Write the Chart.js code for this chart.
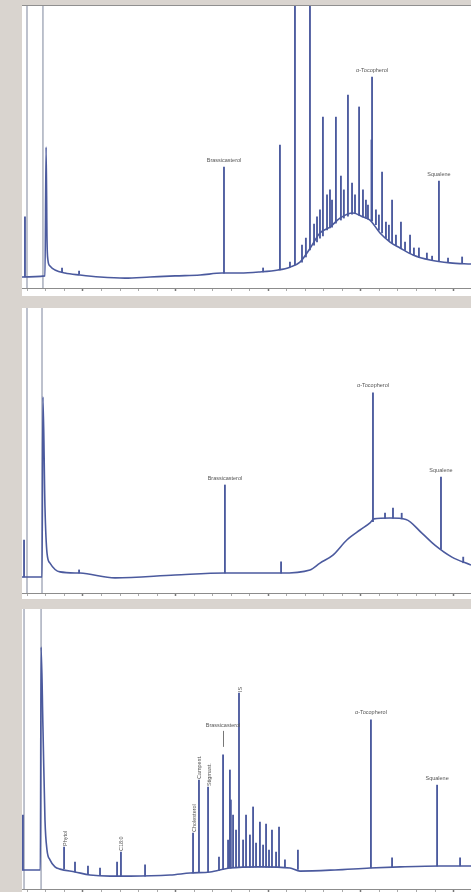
<!DOCTYPE html>
<html>
<head>
<meta charset="utf-8">
<script src="https://cdn.jsdelivr.net/npm/chart.js@4.4.1/dist/chart.umd.min.js"></script>
<style>
  body { margin: 0; width: 471px; height: 892px; background: #d9d4cf; position: relative; overflow: hidden; }
  .panel { position: absolute; left: 22px; width: 449px; background: #fff; }
</style>
</head>
<body>
<div class="panel" style="top:5px;height:290px;border-top:1px solid #8f8f8f"><canvas id="c1"></canvas></div>
<div class="panel" style="top:308px;height:291px"><canvas id="c2"></canvas></div>
<div class="panel" style="top:609px;height:283px"><canvas id="c3"></canvas></div>
<script>
// retention time axis (min)
const minTicks = [2, 3, 4, 5, 6, 7, 8, 9, 10, 11, 12, 13, 14, 15, 16, 17, 18, 19, 20, 21, 22, 23, 24, 25];
const majorTicks = [5, 10, 15, 20, 25];

// ---- sample 1 ----
const p1BaseMin = [1.71, 2.95, 3.01, 3.06, 3.11, 3.22, 3.49, 4.03, 4.84, 5.92, 7.27, 8.62, 9.97, 11.32, 12.50, 13.48, 14.55, 15.53, 16.17, 16.71, 17.25, 17.79, 18.33, 18.87, 19.57, 20.12, 20.49, 21.03, 21.57, 22.11, 22.81, 23.73, 24.81, 25.94];
const p1BaseLevel = [3.9, 4.3, 50.0, 17.0, 9.9, 7.8, 6.4, 5.3, 4.6, 3.9, 3.5, 3.9, 4.3, 4.6, 5.3, 5.3, 5.7, 6.4, 7.4, 9.2, 14.0, 19.5, 21.6, 24.8, 26.6, 25.2, 24.1, 19.5, 16.3, 14.2, 11.7, 9.9, 8.9, 8.5];
const p1PeakMin = [1.87, 3.87, 4.79, 12.61, 14.72, 15.63, 16.17, 16.44, 16.82, 17.03, 17.25, 17.47, 17.63, 17.79, 17.95, 18.17, 18.33, 18.44, 18.65, 18.92, 19.08, 19.30, 19.52, 19.68, 19.90, 20.11, 20.27, 20.38, 20.57, 20.60, 20.81, 20.97, 21.14, 21.35, 21.51, 21.68, 21.89, 22.16, 22.38, 22.65, 22.86, 23.13, 23.56, 23.84, 24.21, 24.70, 25.46];
const p1PeakTop = [25.2, 7.1, 6.0, 42.9, 7.1, 50.7, 9.2, 130, 15.2, 17.7, 130, 22.7, 25.2, 27.7, 60.6, 33.0, 34.8, 31.2, 60.6, 39.7, 34.8, 68.4, 37.2, 33.0, 64.2, 34.8, 31.2, 29.4, 52.5, 74.8, 27.7, 25.9, 41.1, 23.4, 22.3, 31.2, 18.8, 23.4, 16.3, 18.8, 14.2, 14.2, 12.4, 11.3, 37.9, 10.6, 11.0];
const p1PeakFoot = [3.9, 5.7, 5.0, 5.3, 5.7, 6.4, 7.4, 8.2, 9.2, 11.0, 13.5, 15.2, 16.3, 17.7, 18.5, 20.6, 21.3, 21.6, 23.0, 24.1, 24.8, 25.5, 26.2, 26.4, 25.8, 25.2, 24.8, 24.4, 23.8, 23.8, 22.5, 20.5, 19.5, 17.8, 16.8, 16.0, 15.2, 14.0, 13.3, 12.3, 11.6, 10.8, 10.2, 9.8, 9.4, 9.0, 8.7];
const p1Solvent = [1.98, 2.84];
const p1Names = [[12.61, 'Brassicasterol'], [20.60, 'α-Tocopherol'], [24.21, 'Squalene']];

// ---- sample 2 ----
const p2BaseMin = [1.71, 2.79, 2.84, 2.95, 3.06, 3.22, 3.76, 4.84, 6.73, 9.97, 12.66, 15.63, 17.25, 17.79, 18.49, 19.24, 19.95, 20.49, 20.70, 21.57, 22.43, 23.29, 23.99, 24.91, 25.94];
const p2BaseLevel = [5.6, 5.6, 68.8, 30.0, 14.0, 10.5, 7.4, 7.0, 5.3, 6.3, 7.0, 7.0, 8.1, 10.5, 13.3, 18.6, 22.1, 24.6, 26.0, 26.3, 25.8, 21.0, 16.8, 12.6, 9.8];
const p2PeakMin = [1.82, 4.79, 12.66, 15.69, 20.65, 21.30, 21.73, 22.20, 24.32, 25.52];
const p2PeakTop = [18.6, 8.1, 37.9, 10.9, 70.2, 28.0, 29.8, 28.0, 40.7, 12.6];
const p2PeakFoot = [5.6, 7.0, 7.0, 7.0, 25.0, 26.2, 26.3, 26.0, 15.4, 10.6];
const p2Solvent = [1.98, 2.79];
const p2Names = [[12.66, 'Brassicasterol'], [20.65, 'α-Tocopherol'], [24.32, 'Squalene']];

// ---- sample 3 ----
const p3BaseMin = [1.71, 2.70, 2.74, 2.84, 2.95, 3.06, 3.22, 3.49, 3.76, 4.57, 5.38, 6.46, 7.54, 9.70, 10.78, 11.86, 12.93, 14.55, 16.17, 16.71, 18.60, 20.49, 22.11, 24.27, 25.94];
const p3BaseLevel = [6.8, 6.8, 86.4, 57.9, 24.6, 13.9, 10.4, 7.9, 7.1, 6.1, 5.0, 4.6, 4.6, 5.0, 5.7, 6.1, 7.5, 7.9, 7.5, 6.4, 6.8, 7.5, 7.9, 8.2, 8.2];
const p3PeakMin = [1.76, 3.98, 4.57, 5.27, 5.92, 6.84, 7.05, 8.35, 10.94, 11.26, 11.75, 12.34, 12.56, 12.83, 12.93, 12.98, 13.10, 13.26, 13.42, 13.64, 13.80, 14.01, 14.18, 14.34, 14.55, 14.72, 14.88, 15.04, 15.20, 15.42, 15.58, 15.90, 16.60, 20.54, 21.68, 24.11, 25.35];
const p3PeakTop = [26.4, 15.0, 9.6, 8.2, 7.5, 9.6, 13.2, 8.6, 20.0, 38.9, 36.4, 11.4, 47.9, 17.5, 42.5, 31.8, 26.4, 21.0, 70.0, 17.5, 26.4, 19.3, 29.3, 16.4, 23.9, 15.7, 23.2, 13.9, 21.0, 13.2, 22.1, 10.4, 13.9, 60.4, 11.1, 37.1, 11.1];
const p3PeakFoot = [6.8, 7.3, 6.1, 5.2, 4.8, 4.6, 4.6, 4.6, 5.7, 5.9, 6.1, 6.6, 6.9, 7.4, 7.5, 7.5, 7.6, 7.7, 7.7, 7.8, 7.8, 7.8, 7.8, 7.9, 7.9, 7.9, 7.8, 7.8, 7.8, 7.7, 7.7, 7.6, 7.0, 7.5, 7.7, 8.2, 8.2];
const p3Solvent = [1.82, 2.74];
const p3Names = [[12.56, 'Brassicasterol', 22], [20.54, 'α-Tocopherol'], [24.11, 'Squalene']];
const p3Upright = [[3.98, 'Phytol'], [7.05, 'C18:0'], [10.94, 'Cholesterol'], [11.26, 'Campest.'], [11.75, 'Stigmast.'], [13.42, 'IS']];

const TRACE = '#4b5a9e';

function labelPlugin(peakMin, peakTop, names, upright) {
    return {
        id: 'peakLabels',
        afterDatasetsDraw(chart) {
            const { ctx, scales: { x, y } } = chart;
            const topOf = m => y.getPixelForValue(peakTop[peakMin.indexOf(m)]);
            ctx.save();
            ctx.fillStyle = '#555';
            ctx.strokeStyle = '#777';
            ctx.lineWidth = 1;
            ctx.font = '5.5px "Liberation Sans", Arial, sans-serif';
            ctx.textAlign = 'center';
            ctx.textBaseline = 'middle';
            names.forEach(([m, text, lift]) => {
                const px = x.getPixelForValue(m);
                const py = topOf(m);
                const up = lift || 0;
                ctx.fillText(text, px, py - 7 - up);
                if (up) {
                    ctx.beginPath();
                    ctx.moveTo(Math.round(px) + 0.5, py - up - 2);
                    ctx.lineTo(Math.round(px) + 0.5, py - 8);
                    ctx.stroke();
                }
            });
            ctx.textAlign = 'left';
            upright.forEach(([m, text]) => {
                const px = x.getPixelForValue(m);
                const py = topOf(m);
                ctx.save();
                ctx.translate(px + 1, py - 1);
                ctx.rotate(-Math.PI / 2);
                ctx.fillText(text, 0, 0);
                ctx.restore();
            });
            ctx.restore();
        }
    };
}

function drawPanel(id, baseMin, baseLevel, peakMin, peakTop, peakFoot, solvent, names, upright, padBottom) {
    const ctx = document.getElementById(id).getContext('2d');
    return new Chart(ctx, {
        type: 'line',
        data: {
            datasets: [
                {
                    type: 'bar',
                    data: solvent.map(m => ({ x: m, y: [0, 130] })),
                    backgroundColor: 'rgba(150,156,175,0.75)',
                    barThickness: 1,
                    grouped: false,
                    order: 3
                },
                {
                    type: 'line',
                    data: baseMin.map((m, i) => ({ x: m, y: baseLevel[i] })),
                    borderColor: TRACE,
                    borderWidth: 1.6,
                    pointRadius: 0,
                    cubicInterpolationMode: 'monotone',
                    order: 2
                },
                {
                    type: 'bar',
                    data: peakMin.map((m, i) => ({ x: m, y: [peakFoot[i], peakTop[i]] })),
                    backgroundColor: TRACE,
                    barThickness: 1.2,
                    grouped: false,
                    order: 1
                }
            ]
        },
        options: {
            responsive: true,
            maintainAspectRatio: false,
            animation: false,
            events: [],
            layout: { padding: { left: 0, right: 0, top: 0, bottom: padBottom } },
            scales: {
                x: {
                    type: 'linear',
                    min: 1.71,
                    max: 25.94,
                    offset: false,
                    afterBuildTicks: axis => { axis.ticks = minTicks.map(v => ({ value: v })); },
                    ticks: { display: false },
                    grid: {
                        offset: false,
                        drawOnChartArea: false,
                        drawTicks: true,
                        tickLength: 3,
                        tickColor: c => majorTicks.includes(c.tick.value) ? '#777' : '#aaa',
                        tickWidth: c => majorTicks.includes(c.tick.value) ? 1.5 : 1
                    },
                    border: { display: true, color: '#8c8c8c', width: 1 }
                },
                y: {
                    display: false,
                    min: 0,
                    max: 100
                }
            },
            plugins: {
                legend: { display: false },
                tooltip: { enabled: false }
            }
        },
        plugins: [labelPlugin(peakMin, peakTop, names, upright)]
    });
}

drawPanel('c1', p1BaseMin, p1BaseLevel, p1PeakMin, p1PeakTop, p1PeakFoot, p1Solvent, p1Names, [], 5);
drawPanel('c2', p2BaseMin, p2BaseLevel, p2PeakMin, p2PeakTop, p2PeakFoot, p2Solvent, p2Names, [], 3);
drawPanel('c3', p3BaseMin, p3BaseLevel, p3PeakMin, p3PeakTop, p3PeakFoot, p3Solvent, p3Names, p3Upright, 0);
</script>
</body>
</html>
